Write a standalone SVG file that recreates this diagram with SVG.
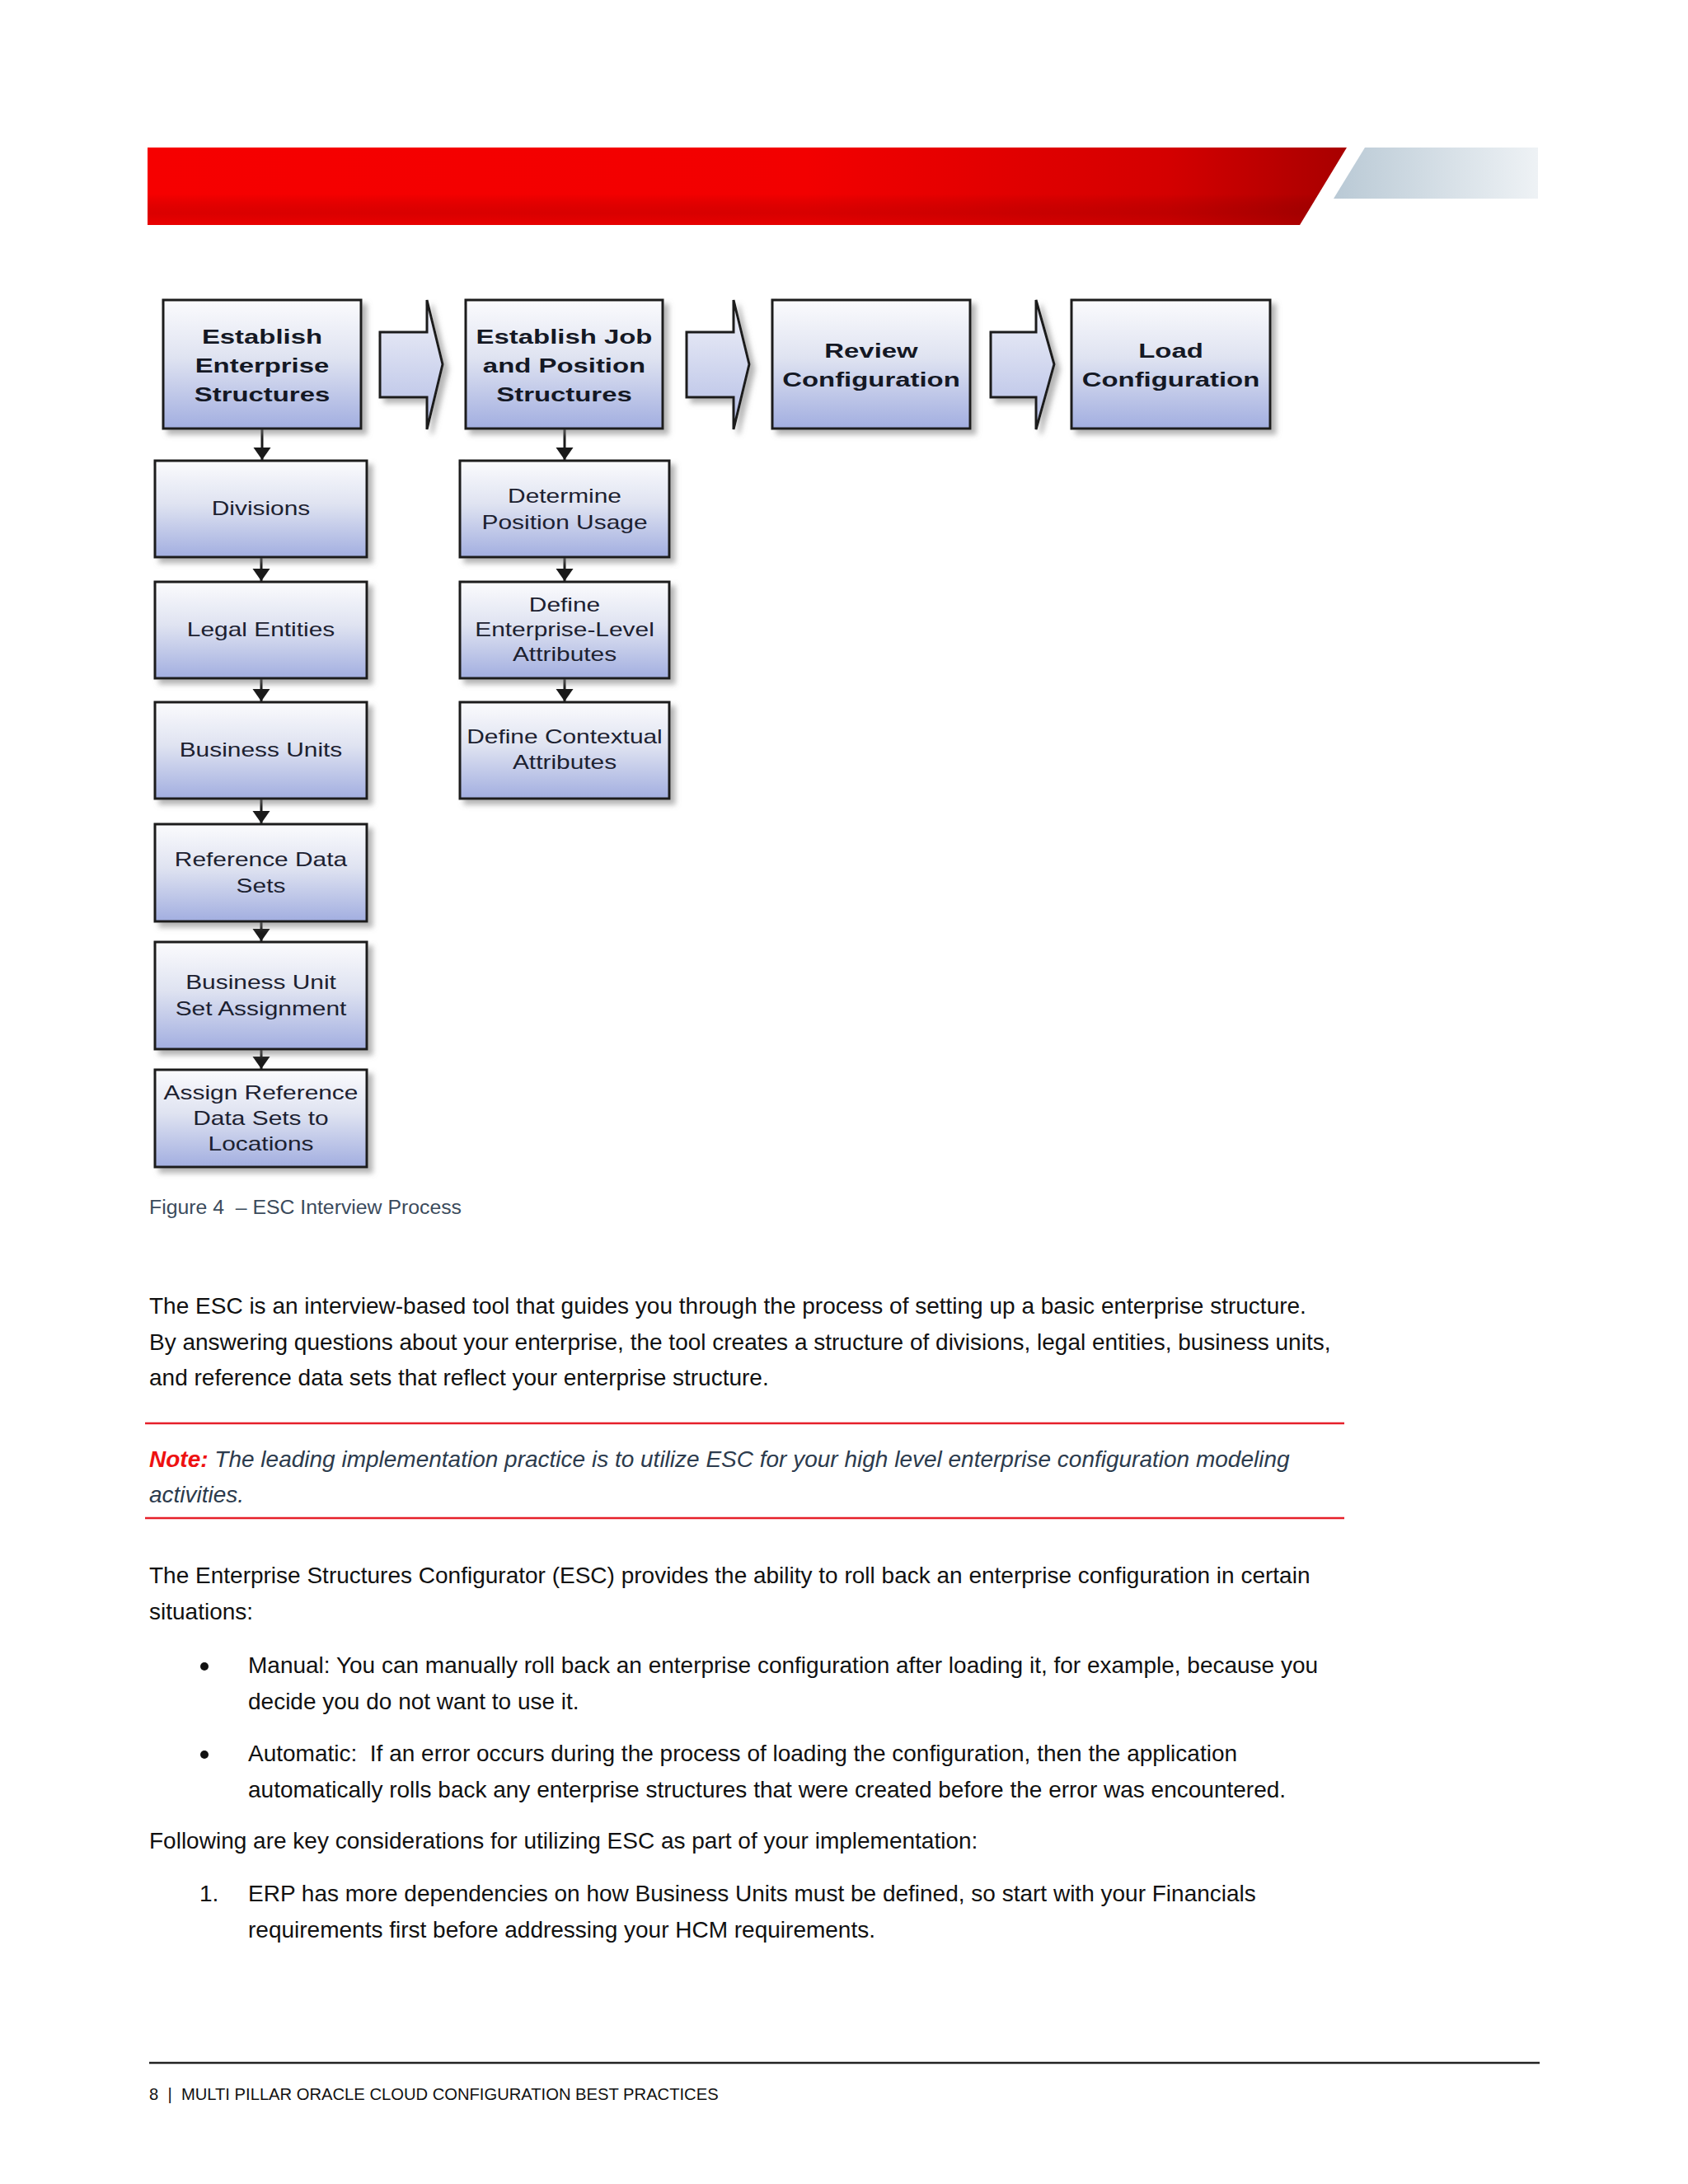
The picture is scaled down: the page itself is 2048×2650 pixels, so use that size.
<svg xmlns="http://www.w3.org/2000/svg" width="2048" height="2650" viewBox="0 0 2048 2650">
<defs>
<linearGradient id="boxg" x1="0" y1="0" x2="0" y2="1">
<stop offset="0" stop-color="#fbfbfd"/>
<stop offset="0.45" stop-color="#dfe3f1"/>
<stop offset="1" stop-color="#a2aee0"/>
</linearGradient>
<linearGradient id="arrg" x1="0" y1="0" x2="0" y2="1">
<stop offset="0" stop-color="#f2f3f9"/>
<stop offset="1" stop-color="#b3bde5"/>
</linearGradient>
<linearGradient id="redg" x1="0" y1="0" x2="1" y2="0">
<stop offset="0" stop-color="#f60000"/>
<stop offset="0.55" stop-color="#f20000"/>
<stop offset="0.85" stop-color="#d40000"/>
<stop offset="1" stop-color="#a80000"/>
</linearGradient>
<linearGradient id="redshade" x1="0" y1="0" x2="0" y2="1">
<stop offset="0" stop-color="#000" stop-opacity="0"/>
<stop offset="0.6" stop-color="#000" stop-opacity="0"/>
<stop offset="0.85" stop-color="#600000" stop-opacity="0.18"/>
<stop offset="1" stop-color="#600000" stop-opacity="0.08"/>
</linearGradient>
<linearGradient id="greyg" x1="0" y1="0" x2="1" y2="0">
<stop offset="0" stop-color="#b9c9d5"/>
<stop offset="1" stop-color="#eef2f5"/>
</linearGradient>
<filter id="sh" x="-10%" y="-10%" width="130%" height="130%">
<feDropShadow dx="6" dy="6" stdDeviation="3" flood-color="#7a7a7a" flood-opacity="0.55"/>
</filter>
<marker id="ah" markerUnits="userSpaceOnUse" markerWidth="16" markerHeight="22" refX="15" refY="10.5" orient="auto">
<path d="M0,0 L15,10.5 L0,21 Z" fill="#1a1a1a"/>
</marker>
</defs>
<style>
.box{fill:url(#boxg);stroke:#1c1c1c;stroke-width:3;filter:url(#sh)}
.arr{fill:url(#arrg);stroke:#1c1c1c;stroke-width:3;stroke-linejoin:miter;filter:url(#sh)}
.bt{font-family:"Liberation Sans",Arial,sans-serif;font-weight:bold;font-size:23.5px;fill:#141824;text-anchor:middle}
.nt{font-family:"Liberation Sans",Arial,sans-serif;font-size:23px;fill:#1c2130;text-anchor:middle}
.con{stroke:#1a1a1a;stroke-width:3;fill:none;marker-end:url(#ah)}
.body{font-family:"Liberation Sans",Arial,sans-serif;font-size:28px;fill:#111}
.note{font-family:"Liberation Sans",Arial,sans-serif;font-size:28px;font-style:italic;fill:#2c3b4d}
.cap{font-family:"Liberation Sans",Arial,sans-serif;font-size:24.8px;fill:#3b4b5c}
.foot{font-family:"Liberation Sans",Arial,sans-serif;font-size:20.2px;fill:#111}
.rl{stroke:#e6202a;stroke-width:2.5}
</style>
<rect width="2048" height="2650" fill="#ffffff"/>

<g id="banner">
<polygon points="179,179 1634,179 1577,273 179,273" fill="url(#redg)"/>
<polygon points="179,179 1634,179 1577,273 179,273" fill="url(#redshade)"/>
<polygon points="1656,179 1866,179 1866,241 1618,241" fill="url(#greyg)"/>
</g>

<g id="connectors">
<line class="con" x1="318" y1="521" x2="318" y2="558"/>
<line class="con" x1="685" y1="521" x2="685" y2="558"/>
<line class="con" x1="317" y1="677" x2="317" y2="705"/>
<line class="con" x1="317" y1="824" x2="317" y2="851"/>
<line class="con" x1="317" y1="970" x2="317" y2="999"/>
<line class="con" x1="317" y1="1119" x2="317" y2="1142"/>
<line class="con" x1="317" y1="1274" x2="317" y2="1297"/>
<line class="con" x1="685" y1="677" x2="685" y2="705"/>
<line class="con" x1="685" y1="824" x2="685" y2="851"/>
</g>

<g id="step-arrows">
<path class="arr" d="M461,403 H518 V364 L537,442 L518,521 V482 H461 Z"/>
<path class="arr" d="M833,403 H890 V364 L909,442 L890,521 V482 H833 Z"/>
<path class="arr" d="M1202,403 H1257 V364 L1279,442 L1257,521 V482 H1202 Z"/>
</g>

<g id="establish-enterprise">
<rect class="box" x="198" y="364" width="240" height="156"/>
<text class="bt" transform="translate(318,417) scale(1.4,1)">Establish</text>
<text class="bt" transform="translate(318,452) scale(1.4,1)">Enterprise</text>
<text class="bt" transform="translate(318,487) scale(1.4,1)">Structures</text>
</g>
<g id="establish-job">
<rect class="box" x="565" y="364" width="239" height="156"/>
<text class="bt" transform="translate(684.5,417) scale(1.4,1)">Establish Job</text>
<text class="bt" transform="translate(684.5,452) scale(1.4,1)">and Position</text>
<text class="bt" transform="translate(684.5,487) scale(1.4,1)">Structures</text>
</g>
<g id="review-configuration">
<rect class="box" x="937" y="364" width="240" height="156"/>
<text class="bt" transform="translate(1057,434) scale(1.4,1)">Review</text>
<text class="bt" transform="translate(1057,469) scale(1.4,1)">Configuration</text>
</g>
<g id="load-configuration">
<rect class="box" x="1300" y="364" width="241" height="156"/>
<text class="bt" transform="translate(1420.5,434) scale(1.4,1)">Load</text>
<text class="bt" transform="translate(1420.5,469) scale(1.4,1)">Configuration</text>
</g>

<g id="divisions">
<rect class="box" x="188" y="559" width="257" height="117"/>
<text class="nt" transform="translate(316.5,625) scale(1.3,1)">Divisions</text>
</g>
<g id="legal-entities">
<rect class="box" x="188" y="706" width="257" height="117"/>
<text class="nt" transform="translate(316.5,772) scale(1.3,1)">Legal Entities</text>
</g>
<g id="business-units">
<rect class="box" x="188" y="852" width="257" height="117"/>
<text class="nt" transform="translate(316.5,918) scale(1.3,1)">Business Units</text>
</g>
<g id="reference-data-sets">
<rect class="box" x="188" y="1000" width="257" height="118"/>
<text class="nt" transform="translate(316.5,1051) scale(1.3,1)">Reference Data</text>
<text class="nt" transform="translate(316.5,1083) scale(1.3,1)">Sets</text>
</g>
<g id="bu-set-assignment">
<rect class="box" x="188" y="1143" width="257" height="130"/>
<text class="nt" transform="translate(316.5,1200) scale(1.3,1)">Business Unit</text>
<text class="nt" transform="translate(316.5,1232) scale(1.3,1)">Set Assignment</text>
</g>
<g id="assign-reference-data-sets">
<rect class="box" x="188" y="1298" width="257" height="118"/>
<text class="nt" transform="translate(316.5,1334) scale(1.3,1)">Assign Reference</text>
<text class="nt" transform="translate(316.5,1365) scale(1.3,1)">Data Sets to</text>
<text class="nt" transform="translate(316.5,1396) scale(1.3,1)">Locations</text>
</g>

<g id="determine-position-usage">
<rect class="box" x="558" y="559" width="254" height="117"/>
<text class="nt" transform="translate(685,610) scale(1.3,1)">Determine</text>
<text class="nt" transform="translate(685,642) scale(1.3,1)">Position Usage</text>
</g>
<g id="define-enterprise-level">
<rect class="box" x="558" y="706" width="254" height="117"/>
<text class="nt" transform="translate(685,742) scale(1.3,1)">Define</text>
<text class="nt" transform="translate(685,772) scale(1.3,1)">Enterprise-Level</text>
<text class="nt" transform="translate(685,802) scale(1.3,1)">Attributes</text>
</g>
<g id="define-contextual">
<rect class="box" x="558" y="852" width="254" height="117"/>
<text class="nt" transform="translate(685,902) scale(1.3,1)">Define Contextual</text>
<text class="nt" transform="translate(685,933) scale(1.3,1)">Attributes</text>
</g>

<g id="page-text">
<text class="cap" x="181" y="1473" style="white-space:pre">Figure 4  – ESC Interview Process</text>
<text class="body" x="181" y="1594">The ESC is an interview-based tool that guides you through the process of setting up a basic enterprise structure.</text>
<text class="body" x="181" y="1638">By answering questions about your enterprise, the tool creates a structure of divisions, legal entities, business units,</text>
<text class="body" x="181" y="1681">and reference data sets that reflect your enterprise structure.</text>
<line class="rl" x1="176" y1="1727" x2="1631" y2="1727"/>
<text class="note" x="181" y="1780"><tspan font-weight="bold" fill="#ee1111">Note:</tspan> The leading implementation practice is to utilize ESC for your high level enterprise configuration modeling</text>
<text class="note" x="181" y="1823">activities.</text>
<line class="rl" x1="176" y1="1842" x2="1631" y2="1842"/>
<text class="body" x="181" y="1921">The Enterprise Structures Configurator (ESC) provides the ability to roll back an enterprise configuration in certain</text>
<text class="body" x="181" y="1965">situations:</text>
<circle cx="248" cy="2022" r="5" fill="#111"/>
<text class="body" x="301" y="2030">Manual: You can manually roll back an enterprise configuration after loading it, for example, because you</text>
<text class="body" x="301" y="2074">decide you do not want to use it.</text>
<circle cx="248" cy="2129" r="5" fill="#111"/>
<text class="body" x="301" y="2137" style="white-space:pre">Automatic:  If an error occurs during the process of loading the configuration, then the application</text>
<text class="body" x="301" y="2181">automatically rolls back any enterprise structures that were created before the error was encountered.</text>
<text class="body" x="181" y="2243">Following are key considerations for utilizing ESC as part of your implementation:</text>
<text class="body" x="242" y="2307">1.</text>
<text class="body" x="301" y="2307">ERP has more dependencies on how Business Units must be defined, so start with your Financials</text>
<text class="body" x="301" y="2351">requirements first before addressing your HCM requirements.</text>
<line x1="181" y1="2503" x2="1868" y2="2503" stroke="#222" stroke-width="2.5"/>
<text class="foot" x="181" y="2548" style="white-space:pre">8  |  MULTI PILLAR ORACLE CLOUD CONFIGURATION BEST PRACTICES</text>
</g>
</svg>
